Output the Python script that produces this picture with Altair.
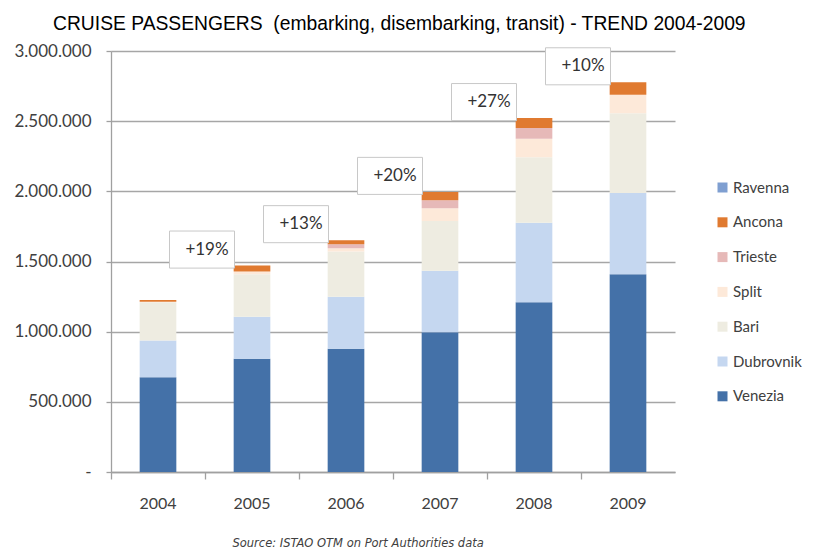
import altair as alt
import pandas as pd

years = ["2004", "2005", "2006", "2007", "2008", "2009"]
ports = ["Venezia", "Dubrovnik", "Bari", "Split", "Trieste", "Ancona", "Ravenna"]

venezia = [675000, 807000, 878000, 995000, 1209000, 1410000]
dubrovnik = [262000, 300000, 371000, 439000, 568000, 579000]
bari = [272000, 303000, 322000, 355000, 466000, 568000]
split = [5000, 19000, 24000, 90000, 132000, 131000]
trieste = [0, 0, 28000, 57000, 76000, 0]
ancona = [12000, 42000, 29000, 60000, 71000, 89000]
ravenna = [0, 0, 0, 0, 0, 0]

growth_years = ["2005", "2006", "2007", "2008", "2009"]
growth_labels = ["+19%", "+13%", "+20%", "+27%", "+10%"]

legend_order = ["Ravenna", "Ancona", "Trieste", "Split", "Bari", "Dubrovnik", "Venezia"]
legend_colors = ["#7F9FD1", "#E07A30", "#E6B9B8", "#FDE9D9", "#EEECE1", "#C5D7F0", "#4471A8"]

series = [venezia, dubrovnik, bari, split, trieste, ancona, ravenna]
rows = []
for k, (port, vals) in enumerate(zip(ports, series)):
    for y, v in zip(years, vals):
        rows.append({"year": y, "port": port, "passengers": v, "order": k})
df = pd.DataFrame(rows)

totals = {y: sum(s[i] for s in series) for i, y in enumerate(years)}
lab = pd.DataFrame({
    "year": growth_years,
    "label": growth_labels,
    "total": [totals[y] for y in growth_years],
})

x_scale = alt.Scale(domain=years, paddingInner=0, paddingOuter=0)
y_scale = alt.Scale(domain=[0, 3000000])

bars = alt.Chart(df).mark_bar(width=alt.RelativeBandSize(0.39)).encode(
    x=alt.X("year:N", scale=x_scale, sort=years,
            axis=alt.Axis(title="Source: ISTAO OTM on Port Authorities data",
                          titleFont="DejaVu Sans", titleFontStyle="italic",
                          titleFontWeight="normal", titleFontSize=11.5,
                          titleColor="#404040", titleAlign="left",
                          titleX=121, titleY=74, titleBaseline="alphabetic",
                          labelAngle=0, labelFont="Lato", labelFontSize=16,
                          labelColor="#404040", labelPadding=16,
                          bandPosition=0, tickSize=7, tickColor="#A0A0A0",
                          tickWidth=1.3, domainColor="#A0A0A0", domainWidth=1.3,
                          grid=False)),
    y=alt.Y("passengers:Q", stack="zero", scale=y_scale,
            axis=alt.Axis(title=None,
                          values=[0, 500000, 1000000, 1500000, 2000000, 2500000, 3000000],
                          labelExpr="datum.value == 0 ? '-\u00a0\u00a0\u00a0' : replace(format(datum.value, ',d'), /,/g, '.')",
                          labelFont="Lato", labelFontSize=17, labelColor="#404040",
                          labelPadding=15, tickSize=5, tickColor="#A0A0A0",
                          tickWidth=1.3, domainColor="#A0A0A0", domainWidth=1.3,
                          grid=True, gridColor="#A6A6A6", gridWidth=1.3)),
    color=alt.Color("port:N",
                    scale=alt.Scale(domain=legend_order, range=legend_colors),
                    legend=alt.Legend(title=None, orient="none", legendX=604, legendY=129,
                                      symbolType="square", symbolSize=100,
                                      symbolStrokeWidth=0, labelFont="Lato",
                                      labelFontSize=15, labelColor="#404040",
                                      labelOffset=3, rowPadding=18.8)),
    order=alt.Order("order:Q", sort="ascending"),
)

box_path = "M-1,-0.57L1,-0.57L1,0.57L-1,0.57Z"
boxes = alt.Chart(lab).mark_point(
    shape=box_path, size=4225, filled=True, fill="white", stroke="#C8C8C8",
    strokeWidth=1, opacity=1, yOffset=-16, xOffset=-3
).encode(
    x=alt.X("year:N", scale=x_scale, sort=years, bandPosition=0),
    y=alt.Y("total:Q", scale=y_scale),
)

texts = alt.Chart(lab).mark_text(
    font="Lato", fontSize=17, color="#333333", dx=2, yOffset=-16, baseline="middle"
).encode(
    x=alt.X("year:N", scale=x_scale, sort=years, bandPosition=0),
    y=alt.Y("total:Q", scale=y_scale),
    text="label:N",
)

chart = alt.layer(bars, boxes, texts).properties(
    width=564, height=421,
    autosize=alt.AutoSizeParams(type="none"),
    padding={"left": 103, "top": 43, "right": 130, "bottom": 76},
    title=alt.TitleParams(
        "CRUISE PASSENGERS\u00a0 (embarking, disembarking, transit) - TREND 2004-2009",
        anchor="start", frame="group", dx=-58, font="Liberation Sans", fontSize=19.3,
        fontWeight="normal", color="#000000", offset=8),
).configure_view(stroke=None)

chart.save("out.html", embed_options={"renderer": "svg", "actions": False})
